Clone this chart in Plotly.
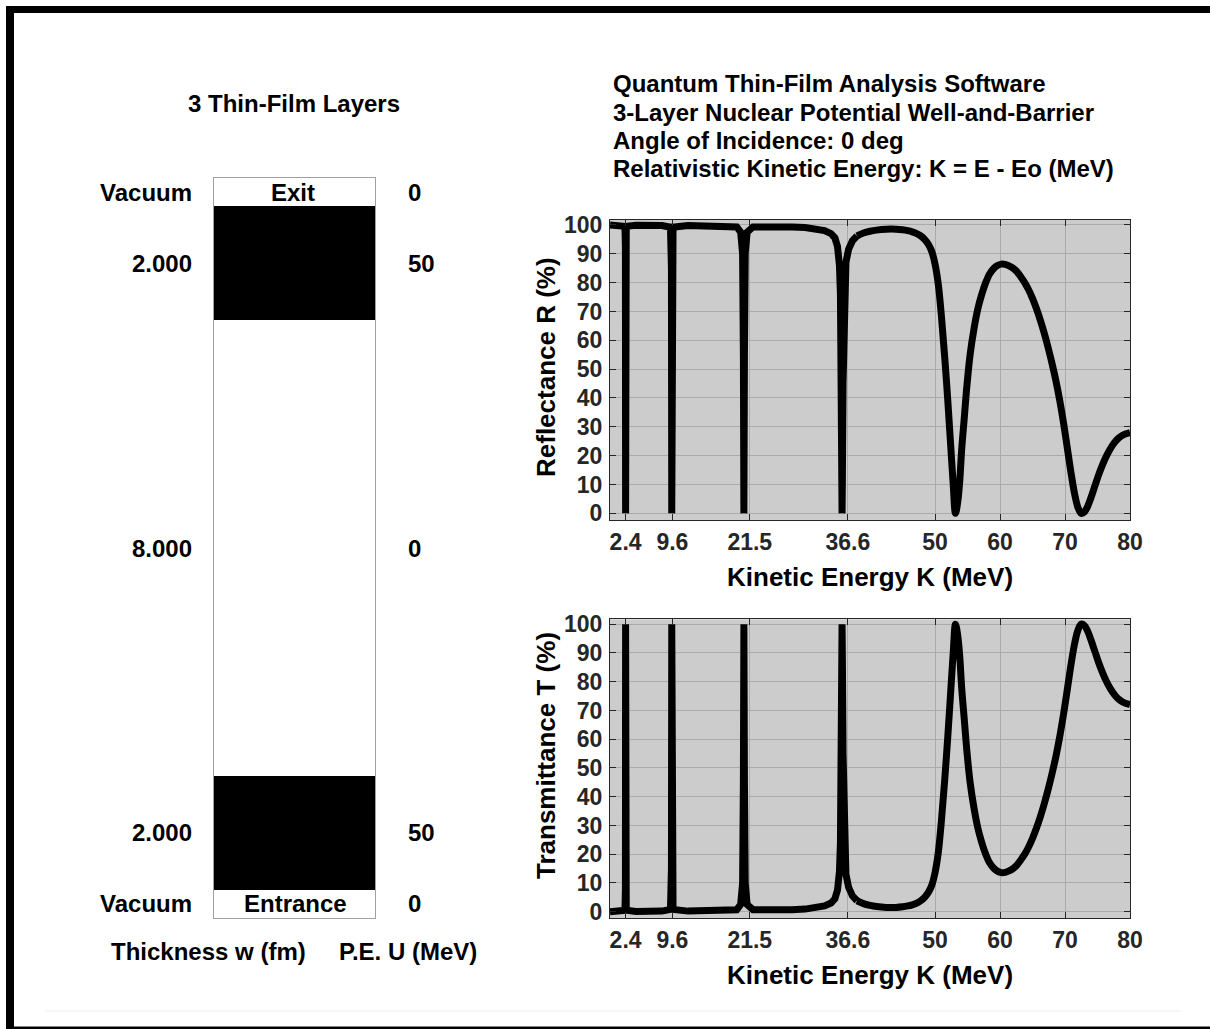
import plotly.graph_objects as go

W, H = 1210, 1029

# ---------------- data ----------------
K = [0, 1.5, 2.3, 2.37, 2.4, 2.43, 2.5, 4, 6, 8,
     9.3, 9.45, 9.5, 9.55, 9.7, 12, 15, 18,
     19.5, 20.1, 20.4, 20.52, 20.6, 20.68, 20.8, 21.1,
     22, 25, 28, 30, 32, 33, 34,
     34.6, 35.0, 35.3, 35.45, 35.55, 35.65, 35.7, 35.75, 35.85,
     36.0, 36.3, 36.7, 37.3,
     38, 39, 40, 41, 42.5, 44, 45.0, 45.8, 46.5, 47.2,
     47.8, 48.4, 49.0, 49.5, 50.0, 50.5, 51.0, 51.5, 52.0, 52.4,
     52.8, 53.15, 53.5, 53.8, 54.1, 54.5, 54.9, 55.4, 56.0, 56.6,
     57.2, 57.8, 58.4, 59.0, 59.6, 60.2, 60.8, 61.4, 62.0, 62.6,
     63.2, 63.8, 64.4, 65.0, 65.6, 66.2, 66.8, 67.4, 68.0, 68.6,
     69.2, 69.8, 70.4, 71.0, 71.5, 72.0, 72.5, 73.0, 73.5, 74.0,
     74.6, 75.2, 75.8, 76.4, 77.0, 77.6, 78.2, 78.8, 79.4, 80]

R_PCT = [100, 99.9, 99.5, 92, 0, 92, 99.5, 99.9, 99.9, 99.8,
         99.2, 85, 0, 85, 99.2, 99.8, 99.8, 99.7,
         99.3, 97.5, 90, 55, 0, 55, 90, 97.5,
         99.3, 99.5, 99.3, 99.1, 98.6, 98.0, 97.0,
         95.5, 92.5, 86, 76, 50, 12, 0, 12, 45,
         75, 87, 91.5, 94.5,
         96.2, 97.2, 97.8, 98.2, 98.5, 98.5, 98.3, 98.0, 97.6, 97.0,
         96.2, 95.0, 93.2, 90.8, 86.5, 79.5, 68, 54, 38, 24,
         10, 0, 4, 11, 22, 33, 44, 55, 64, 71,
         76, 80, 83, 84.8, 85.9, 86.4, 86.3, 85.8, 85.0, 83.8,
         82.0, 80.0, 77.5, 74.5, 71, 67, 62.5, 57.5, 52, 46,
         39, 31, 22, 13, 6.5, 2, 0, 0.5, 2.5, 5.5,
         9.5, 13.5, 17, 20, 22.5, 24.5, 26, 27, 27.6, 28]

T_PCT = [0.0, 0.1, 0.5, 8, 100, 8, 0.5, 0.1, 0.1, 0.2,
         0.8, 15, 100, 15, 0.8, 0.2, 0.2, 0.3,
         0.7, 2.5, 10, 45, 100, 45, 10, 2.5,
         0.7, 0.5, 0.7, 0.9, 1.4, 2.0, 3.0,
         4.5, 7.5, 14, 24, 50, 88, 100, 88, 55,
         25, 13, 8.5, 5.5,
         3.8, 2.8, 2.2, 1.8, 1.5, 1.5, 1.7, 2.0, 2.4, 3.0,
         3.8, 5.0, 6.8, 9.2, 13.5, 20.5, 32, 46, 62, 76,
         90, 100, 96, 89, 78, 67, 56, 45, 36, 29,
         24, 20, 17, 15.2, 14.1, 13.6, 13.7, 14.2, 15.0, 16.2,
         18.0, 20.0, 22.5, 25.5, 29, 33, 37.5, 42.5, 48, 54,
         61, 69, 78, 87, 93.5, 98, 100, 99.5, 97.5, 94.5,
         90.5, 86.5, 83, 80, 77.5, 75.5, 74, 73, 72.4, 72]

X_TICKS = [2.4, 9.6, 21.5, 36.6, 50, 60, 70, 80]
X_TICK_TEXT = ["2.4", "9.6", "21.5", "36.6", "50", "60", "70", "80"]
Y_TICKS = [0, 10, 20, 30, 40, 50, 60, 70, 80, 90, 100]

LAYER_THICKNESS_FM = [2.0, 8.0, 2.0]      # entrance -> exit
LAYER_POTENTIAL_MEV = [50, 0, 50]
AMBIENT_NAMES = ["Vacuum", "Vacuum"]      # entrance, exit
AMBIENT_POTENTIAL = [0, 0]
AMBIENT_SIDES = ["Entrance", "Exit"]

TITLE_LINES = ["Quantum Thin-Film Analysis Software",
               "3-Layer Nuclear Potential Well-and-Barrier",
               "Angle of Incidence: 0 deg",
               "Relativistic Kinetic Energy: K = E - Eo (MeV)"]

# ---------------- style ----------------
FONT = "Liberation Sans, Arial, Helvetica, sans-serif"
FS = 24          # general text
FS_TICK = 23
FS_AX = 26
TXT = "#000000"
TICKC = "#262626"
BG = "#cccccc"
GRID = "#aaaaaa"
VAC_BAND = 0.5   # display height of the vacuum bands in the stack
SMOOTH_FROM = 38  # broad resonances drawn smoothed from here on


def px(x):
    return x / W


def py(y):
    return 1 - y / H


fig = go.Figure()

split = K.index(SMOOTH_FROM)
line_lin = dict(color="black", width=7)
line_spl = dict(color="black", width=7, shape="spline", smoothing=1.0)
for ys, xa, ya in ((R_PCT, "x", "y"), (T_PCT, "x2", "y2")):
    fig.add_trace(go.Scatter(x=K[:split + 1], y=ys[:split + 1], mode="lines", line=line_lin,
                             xaxis=xa, yaxis=ya, showlegend=False, hoverinfo="skip"))
    fig.add_trace(go.Scatter(x=K[split:], y=ys[split:], mode="lines", line=line_spl,
                             xaxis=xa, yaxis=ya, showlegend=False, hoverinfo="skip"))

# ---------------- layer stack ----------------
stack_h = [VAC_BAND] + LAYER_THICKNESS_FM + [VAC_BAND]
stack_u = [AMBIENT_POTENTIAL[0]] + LAYER_POTENTIAL_MEV + [AMBIENT_POTENTIAL[1]]
for i, (h, u) in enumerate(zip(stack_h, stack_u)):
    is_layer = 0 < i < len(stack_h) - 1
    col = "black" if (is_layer and u > 0) else "white"
    fig.add_trace(go.Bar(x=[0], y=[h], width=1, marker=dict(color=col, line=dict(width=0)),
                         xaxis="x3", yaxis="y3", showlegend=False, hoverinfo="skip"))
total = sum(stack_h)

axis_common = dict(
    showline=True, linecolor=TICKC, linewidth=1, mirror="allticks",
    ticks="inside", ticklen=6, tickcolor=TICKC,
    showgrid=True, gridcolor=GRID, gridwidth=1, zeroline=False,
    tickfont=dict(family=FONT, size=FS_TICK, color=TICKC, weight="bold"),
    automargin=False,
)

xdom = [px(610), px(1130)]
fig.update_layout(
    xaxis=dict(domain=xdom, range=[0, 80], tickvals=X_TICKS, ticktext=X_TICK_TEXT,
               anchor="y", ticklabelstandoff=1, **axis_common),
    yaxis=dict(domain=[py(520), py(220)], range=[-2.3, 101.7], tickvals=Y_TICKS,
               anchor="x", ticklabelstandoff=2, **axis_common),
    xaxis2=dict(domain=xdom, range=[0, 80], tickvals=X_TICKS, ticktext=X_TICK_TEXT,
                anchor="y2", ticklabelstandoff=1, **axis_common),
    yaxis2=dict(domain=[py(918.3), py(619.3)], range=[-2.3, 101.7], tickvals=Y_TICKS,
                anchor="x2", ticklabelstandoff=2, **axis_common),
    xaxis3=dict(domain=[px(214), px(375)], range=[-0.5, 0.5], anchor="y3",
                showline=True, mirror=True, linecolor="#a0a0a0", linewidth=1,
                showticklabels=False, showgrid=False, zeroline=False, ticks=""),
    yaxis3=dict(domain=[py(918), py(178)], range=[0, total], anchor="x3",
                showline=True, mirror=True, linecolor="#a0a0a0", linewidth=1,
                showticklabels=False, showgrid=False, zeroline=False, ticks=""),
    barmode="stack", bargap=0,
    plot_bgcolor=BG, paper_bgcolor="white",
    width=W, height=H,
    margin=dict(l=0, r=0, t=0, b=0, pad=0, autoexpand=False),
    font=dict(family=FONT, size=FS, color=TXT, weight="bold"),
    showlegend=False,
)

ann = []


def add_text(text, x, y, xanchor="center", yanchor="middle", size=FS, angle=0,
             yref="paper", color=TXT):
    ann.append(dict(text=text, x=x, y=y, xref="paper", yref=yref, xanchor=xanchor,
                    yanchor=yanchor, showarrow=False, textangle=angle,
                    font=dict(family=FONT, size=size, color=color, weight="bold")))


for i, t in enumerate(TITLE_LINES):
    add_text(t, px(611), py(84 + 28.3 * i), xanchor="left")
add_text("3 Thin-Film Layers", px(294), py(104))

add_text("Reflectance R (%)", px(546), py(367), angle=-90, size=FS_AX)
add_text("Kinetic Energy K (MeV)", px(870), py(577), size=FS_AX)
add_text("Transmittance T (%)", px(546), py(756), angle=-90, size=FS_AX)
add_text("Kinetic Energy K (MeV)", px(870), py(975), size=FS_AX)

left_lab = [AMBIENT_NAMES[0]] + [f"{t:.3f}" for t in LAYER_THICKNESS_FM] + [AMBIENT_NAMES[1]]
right_lab = [str(u) for u in stack_u]
base = 0.0
for i, h in enumerate(stack_h):
    mid = base + h / 2
    add_text(left_lab[i], px(194), mid, xanchor="right", yref="y3")
    add_text(right_lab[i], px(406), mid, xanchor="left", yref="y3")
    if i == 0:
        add_text(AMBIENT_SIDES[0], px(295), mid, yref="y3")
    if i == len(stack_h) - 1:
        add_text(AMBIENT_SIDES[1], px(293), mid, yref="y3")
    base += h

add_text("Thickness w (fm)", px(208), py(951))
add_text("P.E. U (MeV)", px(408), py(951))

fig.update_layout(annotations=ann)

shapes = [
    dict(type="rect", xref="paper", yref="paper", x0=px(6), x1=px(14), y0=py(1029), y1=py(6),
         fillcolor="black", line=dict(width=0), layer="above"),
    dict(type="rect", xref="paper", yref="paper", x0=px(6), x1=px(1210), y0=py(13), y1=py(6),
         fillcolor="black", line=dict(width=0), layer="above"),
    dict(type="rect", xref="paper", yref="paper", x0=px(6), x1=px(1210), y0=py(1029), y1=py(1026.5),
         fillcolor="black", line=dict(width=0), layer="above"),
    dict(type="line", xref="paper", yref="paper", x0=px(45), x1=px(1180), y0=py(1011), y1=py(1011),
         line=dict(color="#ececec", width=1), layer="above"),
]
fig.update_layout(shapes=shapes)

fig.write_html("out.html")
